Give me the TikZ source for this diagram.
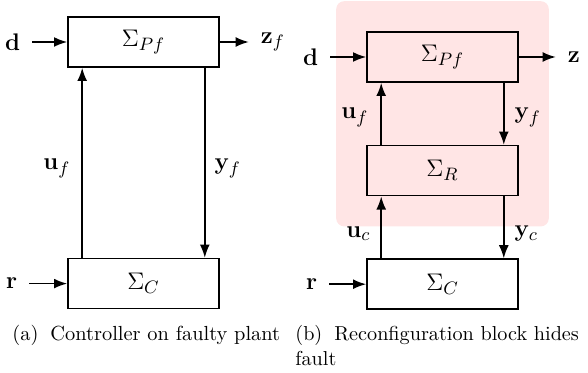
\documentclass[tikz,border=0pt]{standalone}
\usepackage{amsmath}
\usetikzlibrary{arrows.meta, positioning, fit, backgrounds}

\begin{document}
\begin{tikzpicture}[x=0.5pt, y=-0.5pt,
        font=\fontsize{13}{15.6}\selectfont,
        block/.style={rectangle, draw, thick, minimum width=75.5pt, minimum height=25pt, inner sep=0pt},
        sig/.style={inner sep=0pt, outer sep=6pt},
        lbl/.style={inner sep=2pt},
        link/.style={-Latex, thick},
        shade/.style={fill=red!10, rounded corners=4pt, inner sep=15pt},
        caption/.style={anchor=north west, inner sep=0pt, text width=146pt, align=left, font=\fontsize{10.2}{12.5}\selectfont}
    ]
    \useasboundingbox (0,0) rectangle (588,373);

    % --- (a) controller on faulty plant ---
    \node [block] (plant_a) at (143.5,42) {$\Sigma_{Pf}$};
    \node [block, below=95pt of plant_a] (ctrl_a) {$\Sigma_C$};
    \node [sig, left=17.5pt of plant_a] (d_a) {$\mathbf{d}$};
    \node [sig, right=14.5pt of plant_a] (z_a) {$\mathbf{z}_f$};
    \node [sig, left=19pt of ctrl_a] (r_a) {$\mathbf{r}$};

    \draw [link] (d_a) -- (plant_a);
    \draw [link] (plant_a) -- (z_a);
    \draw [link] (r_a) -- (ctrl_a);
    \draw [link] ([xshift=7.5pt]ctrl_a.north west) -- node [lbl, pos=0.47, left=3.5pt] (uf_a) {$\mathbf{u}_f$} ([xshift=7.5pt]plant_a.south west);
    \draw [link] ([xshift=-7.5pt]plant_a.south east) -- node [lbl, pos=0.53, right=2.5pt] (yf_a) {$\mathbf{y}_f$} ([xshift=-7.5pt]ctrl_a.north east);

    % --- (b) reconfiguration block ---
    \node [block] (plant_b) at (442.5,57) {$\Sigma_{Pf}$};
    \node [block, below=31pt of plant_b] (recon_b) {$\Sigma_R$};
    \node [block, below=31pt of recon_b] (ctrl_b) {$\Sigma_C$};
    \node [sig, left=18pt of plant_b] (d_b) {$\mathbf{d}$};
    \node [sig, right=18.5pt of plant_b] (z_b) {$\mathbf{z}$};
    \node [sig, left=18.5pt of ctrl_b] (r_b) {$\mathbf{r}$};

    \begin{scope}[on background layer]
        \node [shade, fit=(plant_b) (recon_b)] (hide_box) {};
    \end{scope}

    \draw [link] (d_b) -- (plant_b);
    \draw [link] (plant_b) -- (z_b);
    \draw [link] (r_b) -- (ctrl_b);
    \draw [link] ([xshift=7.5pt]recon_b.north west) -- node [lbl, pos=0.44, left=4pt] (uf_b) {$\mathbf{u}_f$} ([xshift=7.5pt]plant_b.south west);
    \draw [link] ([xshift=-7.5pt]plant_b.south east) -- node [lbl, pos=0.56, right=3pt] (yf_b) {$\mathbf{y}_f$} ([xshift=-7.5pt]recon_b.north east);
    \draw [link] ([xshift=7.5pt]ctrl_b.north west) -- node [lbl, pos=0.4, left=3pt] (uc_b) {$\mathbf{u}_c$} ([xshift=7.5pt]recon_b.south west);
    \draw [link] ([xshift=-7.5pt]recon_b.south east) -- node [lbl, pos=0.6, right=3pt] (yc_b) {$\mathbf{y}_c$} ([xshift=-7.5pt]ctrl_b.north east);

    % Captions
    \node [caption] (cap_a) at (12,325) {(a)\hspace{6pt}Controller on faulty plant};
    \node [caption, font=\fontsize{10.1}{12.5}\selectfont] (cap_b) at (295,325) {(b)\hspace{6pt}Reconfiguration block hides fault};

\end{tikzpicture}
\end{document}
